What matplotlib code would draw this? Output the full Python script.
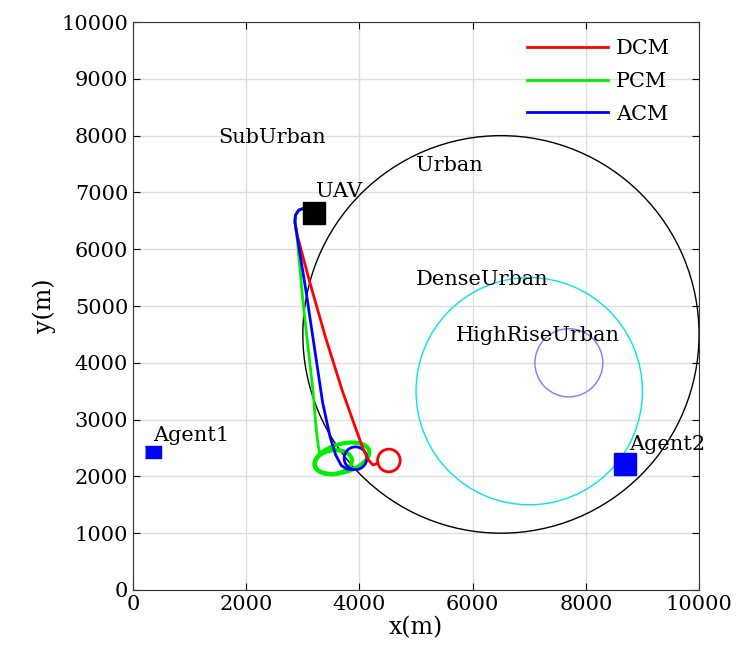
import matplotlib
matplotlib.use("Agg")
import matplotlib.pyplot as plt
from matplotlib.patches import Circle, Ellipse

plt.rcParams['font.family'] = ['DejaVu Serif']

# zone circles: (name, centre x, centre y, radius, colour)
zone_names = ["Urban", "DenseUrban", "HighRiseUrban"]
zone_cx = [6500, 7000, 7700]
zone_cy = [4500, 3500, 4000]
zone_r = [3500, 2000, 600]
zone_colors = ["black", "#00e5e5", "#7b7bff"]

# labels
label_text = ["SubUrban", "Urban", "DenseUrban", "HighRiseUrban", "UAV", "Agent1", "Agent2"]
label_x = [1500, 5000, 5000, 5700, 3230, 350, 8760]
label_y = [7970, 7470, 5470, 4480, 7020, 2720, 2570]

# trajectories (m)
dcm_x = [3020, 2930, 2870, 2860, 2900, 3100, 3400, 3700, 3950, 4060, 4150, 4240, 4320]
dcm_y = [6720, 6690, 6600, 6480, 6250, 5500, 4450, 3500, 2800, 2500, 2300, 2200, 2230]
dcm_loop = (4520, 2280, 200)

pcm_x = [3020, 2930, 2870, 2860, 2900, 3000, 3100, 3180, 3230, 3270, 3300]
pcm_y = [6720, 6690, 6600, 6480, 6200, 5100, 4200, 3500, 2900, 2550, 2400]
pcm_loop = (3690, 2320, 1000, 500, 16)
pcm_loop2 = (3540, 2250, 660, 420, 8)

acm_x = [3020, 2930, 2870, 2860, 2920, 3050, 3200, 3350, 3480, 3580, 3680, 3780, 3880]
acm_y = [6720, 6690, 6600, 6480, 6100, 5300, 4300, 3300, 2700, 2380, 2190, 2130, 2120]
acm_loop = (3930, 2320, 200)

uav = (3200, 6640)
agent1 = (350, 2430)
agent2 = (8700, 2210)

fig = plt.figure(figsize=(7.37, 6.68), dpi=100)
ax = fig.add_axes([0.1805, 0.1168, 0.768, 0.8502])

for cx, cy, r, c in zip(zone_cx, zone_cy, zone_r, zone_colors):
    ax.add_patch(Circle((cx, cy), r, fill=False, edgecolor=c, linewidth=1))

ax.plot(dcm_x, dcm_y, color="red", lw=2, label="DCM")
ax.plot(pcm_x, pcm_y, color="#00ee00", lw=2, label="PCM")
ax.plot(acm_x, acm_y, color="blue", lw=2, label="ACM")

ax.add_patch(Circle(dcm_loop[:2], dcm_loop[2], fill=False, edgecolor="red", lw=2))
ax.add_patch(Ellipse(pcm_loop[:2], pcm_loop[2], pcm_loop[3], angle=pcm_loop[4],
                     fill=False, edgecolor="#00ee00", lw=3))
ax.add_patch(Ellipse(pcm_loop2[:2], pcm_loop2[2], pcm_loop2[3], angle=pcm_loop2[4],
                     fill=False, edgecolor="#00ee00", lw=3))
ax.add_patch(Circle(acm_loop[:2], acm_loop[2], fill=False, edgecolor="blue", lw=2))

ax.plot(*uav, marker="s", color="black", markersize=16)
ax.plot(*agent1, marker=[(-1.4, -1), (1.4, -1), (1.4, 1), (-1.4, 1)], color="blue",
        markersize=12, linestyle="none")
ax.plot(*agent2, marker="s", color="blue", markersize=16)

for t, x, y in zip(label_text, label_x, label_y):
    ax.text(x, y, t, fontsize=15, ha="left", va="center")

ax.set_xlim(0, 10000)
ax.set_ylim(0, 10000)
ax.set_xticks(range(0, 10001, 2000))
ax.set_yticks(range(0, 10001, 1000))
ax.tick_params(direction="in", top=True, right=True, labelsize=15, length=5)
ax.grid(True, color="#dddddd", linewidth=1)
ax.set_axisbelow(True)
for s in ax.spines.values():
    s.set_color("#333333")
ax.set_xlabel("x(m)", fontsize=17, labelpad=2)
ax.set_ylabel("y(m)", fontsize=17)
ax.legend(loc="upper right", bbox_to_anchor=(0.975, 0.995), frameon=False, fontsize=15,
          handlelength=3.9, handletextpad=0.4, borderaxespad=0.3, labelspacing=0.65)

plt.savefig("out.png", dpi=100)
